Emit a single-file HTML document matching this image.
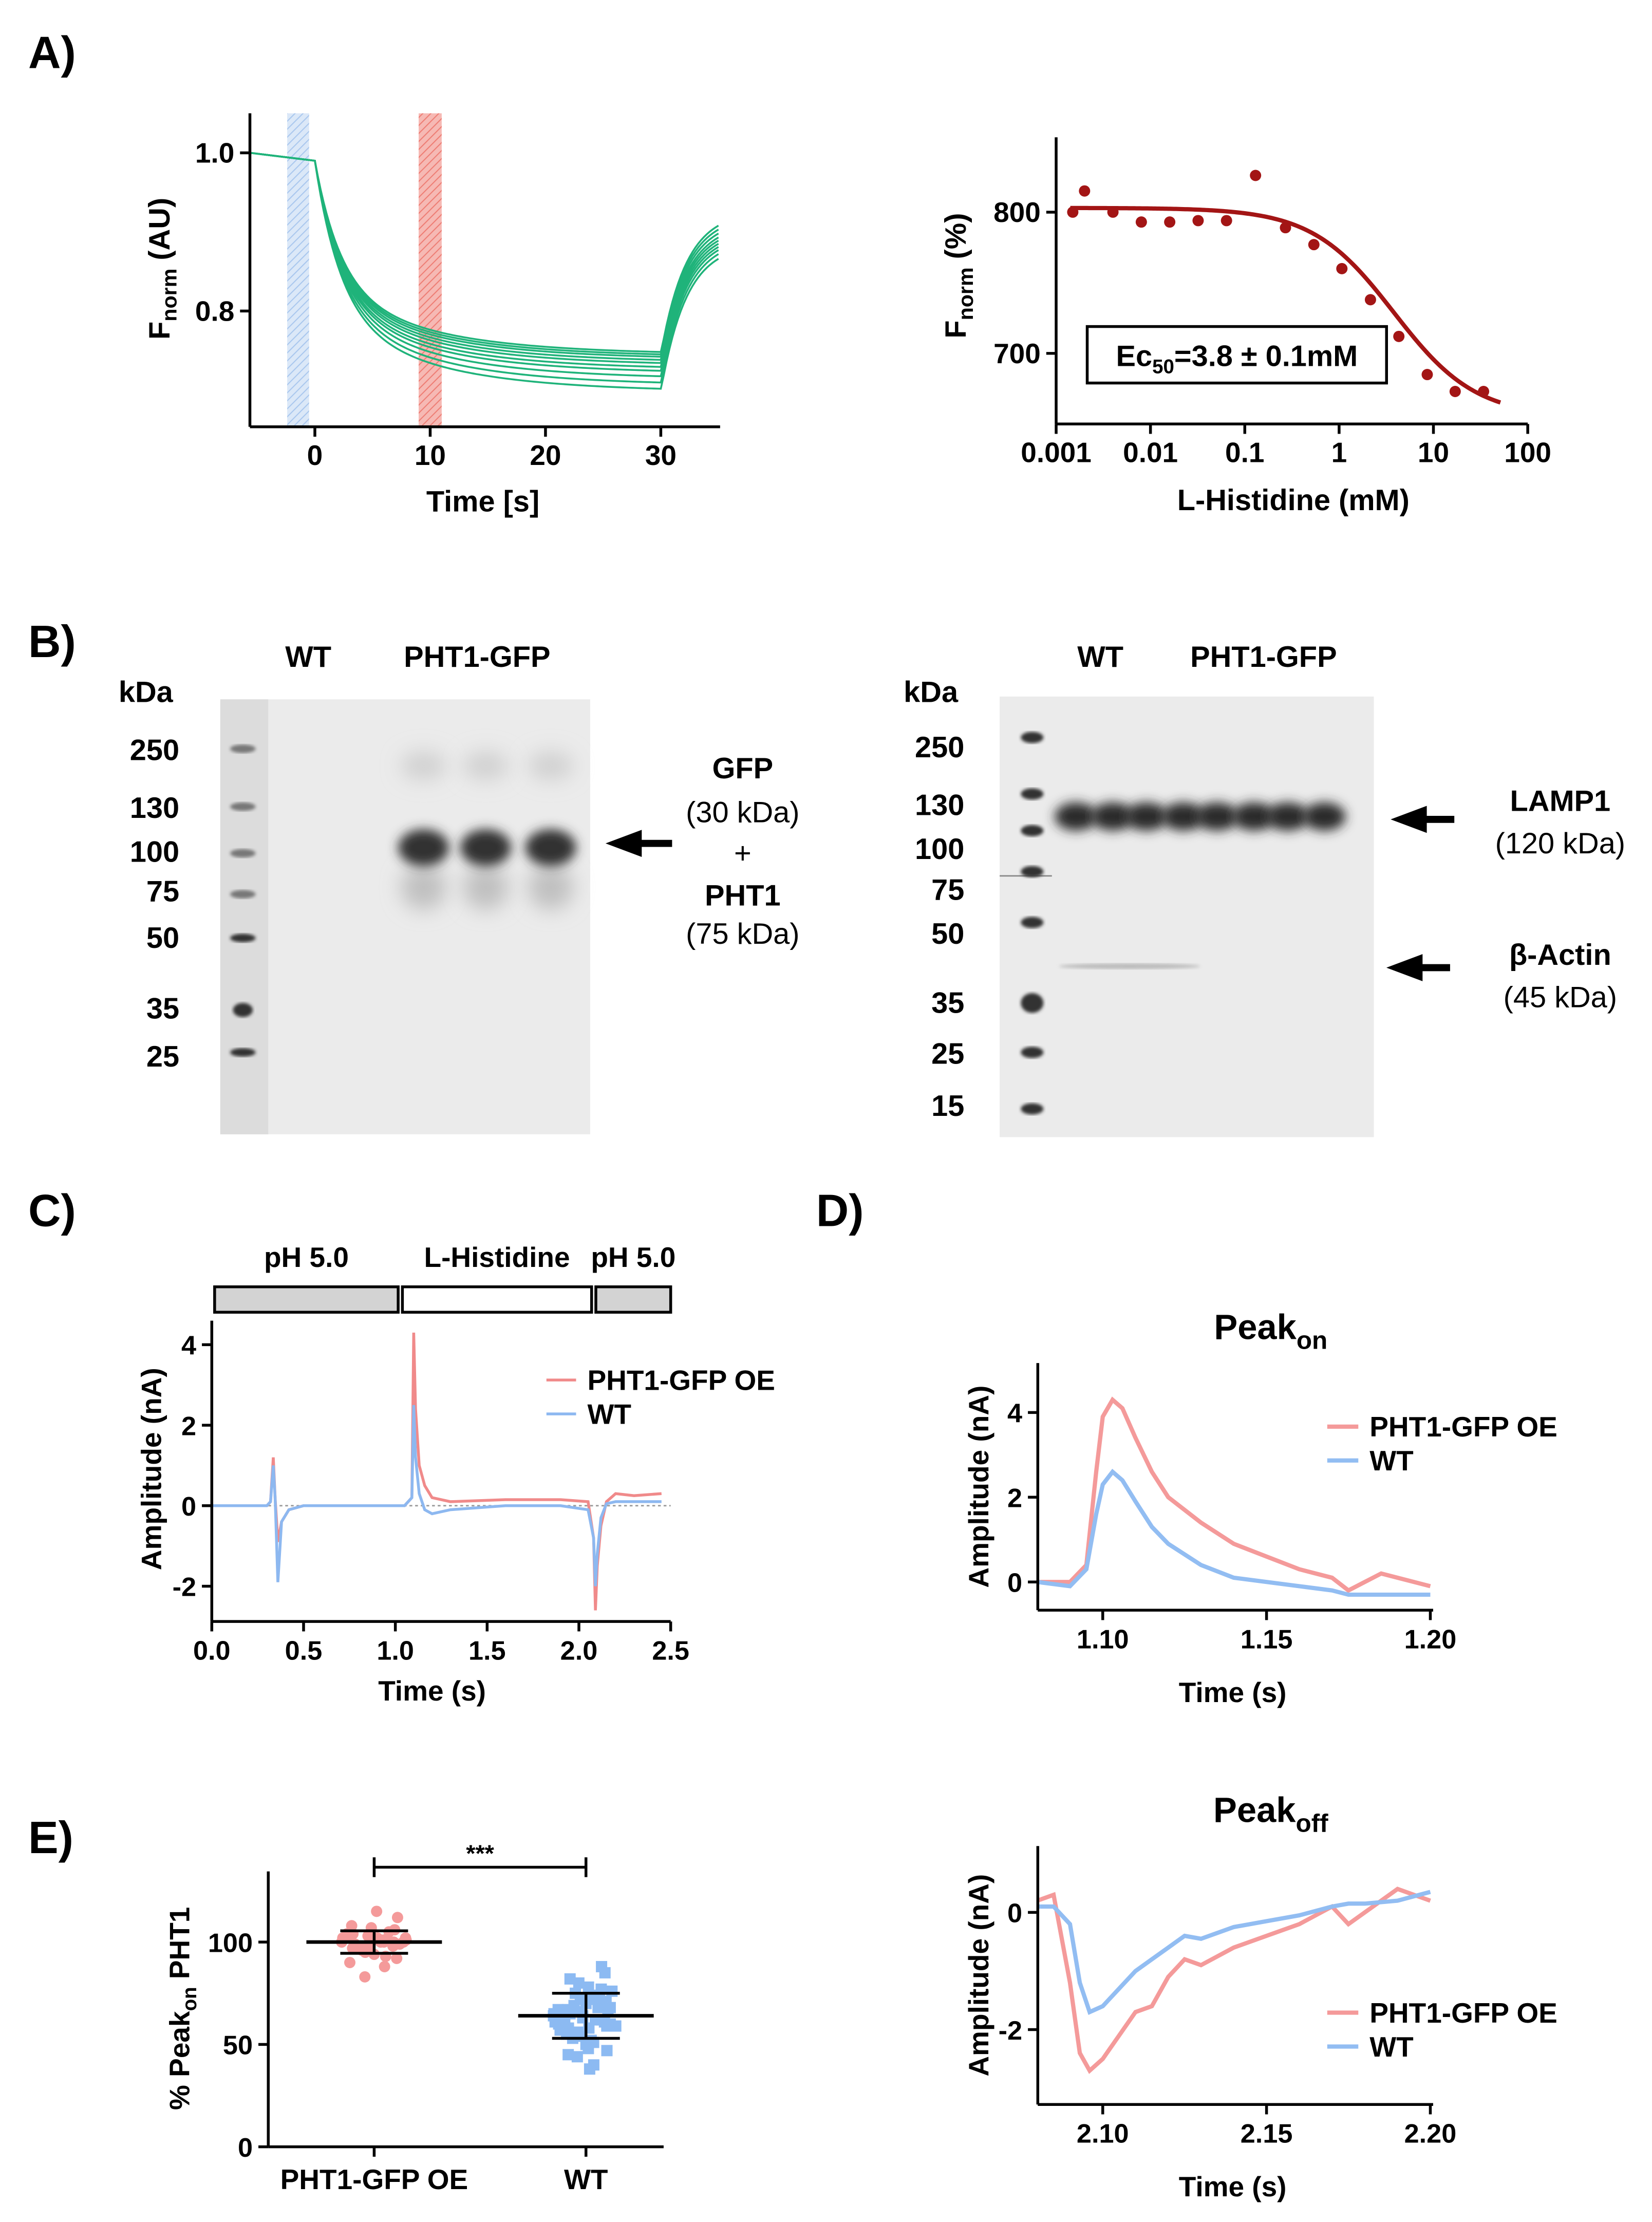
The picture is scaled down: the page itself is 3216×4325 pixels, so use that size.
<!DOCTYPE html>
<html><head><meta charset="utf-8">
<style>
html,body{margin:0;padding:0;background:#fff;}
svg{display:block;font-family:"Liberation Sans",Arial,sans-serif;}
.b{font-weight:bold;}
</style></head>
<body>
<svg id="fig" width="3216" height="4325" viewBox="0 0 1170 1573" xmlns="http://www.w3.org/2000/svg">
<defs>
<pattern id="hb" patternUnits="userSpaceOnUse" width="4" height="4" patternTransform="rotate(45)"><rect width="4" height="4" fill="#dbe8f8"/><line x1="0" y1="0" x2="0" y2="4" stroke="#a9c7ee" stroke-width="1.5"/></pattern>
<pattern id="hr" patternUnits="userSpaceOnUse" width="4" height="4" patternTransform="rotate(45)"><rect width="4" height="4" fill="#f6b9b4"/><line x1="0" y1="0" x2="0" y2="4" stroke="#ee7d74" stroke-width="1.5"/></pattern>
<filter id="blur3" x="-50%" y="-100%" width="200%" height="300%"><feGaussianBlur stdDeviation="4"/></filter>
<filter id="blur6" x="-50%" y="-100%" width="200%" height="300%"><feGaussianBlur stdDeviation="7"/></filter>
<filter id="blur1"><feGaussianBlur stdDeviation="1.2"/></filter>
</defs>
<g id="root"></g>
<text class="b" x="20" y="48" font-size="32">A)</text>
<text class="b" x="20" y="465" font-size="32">B)</text>
<text class="b" x="20" y="868" font-size="32">C)</text>
<text class="b" x="578" y="868" font-size="32">D)</text>
<text class="b" x="20" y="1312" font-size="32">E)</text>

<g font-size="21" class="b">
<text x="84" y="497">kDa</text>
<text x="202" y="472">WT</text>
<text x="286" y="472">PHT1-GFP</text>
<g text-anchor="end"><text x="127" y="538">250</text><text x="127" y="579">130</text><text x="127" y="610">100</text><text x="127" y="638">75</text><text x="127" y="671">50</text><text x="127" y="721">35</text><text x="127" y="755">25</text></g>
<text x="526" y="551" text-anchor="middle">GFP</text>
<text x="526" y="611" text-anchor="middle" font-weight="normal">+</text>
<text x="526" y="641" text-anchor="middle">PHT1</text>
</g>
<g font-size="21" text-anchor="middle"><text x="526" y="582">(30 kDa)</text><text x="526" y="668">(75 kDa)</text></g>
<path d="M476,597 L452,597 L452,591 L436,597 L452,603 L452,597" stroke="#000" stroke-width="5" fill="#000"/>

<g font-size="21" class="b">
<text x="640" y="497">kDa</text>
<text x="763" y="472">WT</text>
<text x="843" y="472">PHT1-GFP</text>
<g text-anchor="end"><text x="683" y="536">250</text><text x="683" y="577">130</text><text x="683" y="608">100</text><text x="683" y="637">75</text><text x="683" y="668">50</text><text x="683" y="717">35</text><text x="683" y="753">25</text><text x="683" y="790">15</text></g>
<text x="1105" y="574" text-anchor="middle">LAMP1</text>
<text x="1105" y="683" text-anchor="middle">β-Actin</text>
</g>
<g font-size="21" text-anchor="middle"><text x="1105" y="604">(120 kDa)</text><text x="1105" y="713">(45 kDa)</text></g>
<path d="M1030,580 L1008,580 L1008,574 L992,580 L1008,586 L1008,580" stroke="#000" stroke-width="5" fill="#000"/>
<path d="M1027,685 L1005,685 L1005,679 L989,685 L1005,691 L1005,685" stroke="#000" stroke-width="5" fill="#000"/>

<script>
var aFinal=[0.745,0.742,0.739,0.735,0.731,0.726,0.721,0.714,0.706,0.698];
var aRecov=[0.908,0.903,0.898,0.893,0.889,0.885,0.881,0.877,0.872,0.866];
var aMid=[0.805,0.802,0.799,0.796,0.793,0.789,0.786,0.782,0.777,0.772];
var aXTicks=[0,10,20,30];
var aYTicks=[0.8,1.0];
var drConc=[0.0015,0.002,0.004,0.008,0.016,0.032,0.064,0.13,0.27,0.54,1.07,2.15,4.3,8.6,17,34];
var drF=[800,815,800,793,793,794,794,826,789,777,760,738,712,685,673,673];
var drXTicks=[0.001,0.01,0.1,1,10,100];
var drXLabels=["0.001","0.01","0.1","1","10","100"];
var drYTicks=[700,800];
var cT=[0,0.3,0.32,0.335,0.345,0.36,0.38,0.42,0.5,0.8,1.05,1.09,1.1,1.11,1.13,1.16,1.2,1.3,1.6,1.9,2.05,2.08,2.09,2.1,2.12,2.15,2.2,2.3,2.45];
var cOE=[0,0,0.1,1.2,0.2,-0.9,-0.4,-0.1,0,0,0,0.2,4.3,2.4,1.0,0.5,0.2,0.1,0.15,0.15,0.1,-0.8,-2.6,-1.5,-0.5,0.1,0.3,0.25,0.3];
var cWT=[0,0,0.1,1.0,0.2,-1.9,-0.4,-0.1,0,0,0,0.2,2.5,1.2,0.3,-0.1,-0.2,-0.1,0,0,-0.1,-0.8,-2.0,-1.2,-0.3,0.05,0.1,0.1,0.1];
var cXTicks=[0,0.5,1.0,1.5,2.0,2.5];
var cYTicks=[-2,0,2,4];
var dOnT=[1.08,1.09,1.095,1.098,1.1,1.103,1.106,1.11,1.115,1.12,1.13,1.14,1.15,1.16,1.17,1.175,1.18,1.185,1.19,1.2];
var dOnOE=[0,0,0.4,2.6,3.9,4.3,4.1,3.4,2.6,2.0,1.4,0.9,0.6,0.3,0.1,-0.2,0,0.2,0.1,-0.1];
var dOnWT=[0,-0.1,0.3,1.6,2.3,2.6,2.4,1.9,1.3,0.9,0.4,0.1,0,-0.1,-0.2,-0.3,-0.3,-0.3,-0.3,-0.3];
var dOnXTicks=[1.10,1.15,1.20];
var dOnYTicks=[0,2,4];
var dOffT=[2.08,2.085,2.09,2.093,2.096,2.1,2.105,2.11,2.115,2.12,2.125,2.13,2.14,2.15,2.16,2.17,2.175,2.18,2.19,2.2];
var dOffOE=[0.2,0.3,-1.2,-2.4,-2.7,-2.5,-2.1,-1.7,-1.6,-1.1,-0.8,-0.9,-0.6,-0.4,-0.2,0.1,-0.2,0,0.4,0.2];
var dOffWT=[0.1,0.1,-0.2,-1.2,-1.7,-1.6,-1.3,-1.0,-0.8,-0.6,-0.4,-0.45,-0.25,-0.15,-0.05,0.1,0.15,0.15,0.2,0.35];
var dOffXTicks=[2.10,2.15,2.20];
var dOffYTicks=[-2,0];
var eOE=[100,98,102,96,104,99,101,95,108,92,100,103,97,112,88,100,99,101,105,94,98,102,100,115,83,90,106,100,97,103,99,101,96,104,100,93,107,98,102,100];
var eWT=[64,70,58,75,60,66,52,80,45,68,62,72,55,85,40,63,67,59,74,50,65,61,77,48,69,57,71,38,66,63,60,73,54,82,47,68,64,58,76,62,70,53,65,61,78,44,67,59,72,56,64,88,51,66,60];
var eCats=["PHT1-GFP OE","WT"];
var eMean=[100,64];
var eSD=[5.5,11];
var eYTicks=[0,50,100];

var NS="http://www.w3.org/2000/svg";
var root=document.getElementById('root');
function el(tag,attrs,parent,txt){var e=document.createElementNS(NS,tag);for(var k in attrs)e.setAttribute(k,attrs[k]);if(txt!==undefined)e.textContent=txt;(parent||root).appendChild(e);return e;}
function lin(d0,d1,r0,r1){return function(v){return r0+(v-d0)*(r1-r0)/(d1-d0);};}
function grp(name){var g=el('g',{});return g;}
function path(pts){return pts.map(function(p,i){return (i?'L':'M')+p[0].toFixed(2)+','+p[1].toFixed(2);}).join(' ');}
function axes(g,x0,y0,x1,y1){el('line',{x1:x0,y1:y0,x2:x0,y2:y1,stroke:'#000','stroke-width':2},g);el('line',{x1:x0,y1:y1,x2:x1,y2:y1,stroke:'#000','stroke-width':2},g);}
function xTicks(g,ticks,labels,sx,y,fs){ticks.forEach(function(t,i){var x=sx(t);el('line',{x1:x,y1:y,x2:x,y2:y+7,stroke:'#000','stroke-width':2},g);var tx=el('text',{x:x,y:y+27,'text-anchor':'middle','font-size':fs||19,'font-weight':'bold'},g,labels[i]);});}
function yTicks(g,ticks,labels,sy,x,fs){ticks.forEach(function(t,i){var y=sy(t);el('line',{x1:x-7,y1:y,x2:x,y2:y,stroke:'#000','stroke-width':2},g);var tx=el('text',{x:x-11,y:y+7,'text-anchor':'end','font-size':fs||19,'font-weight':'bold'},g,labels[i]);});}
function fmt(v,d){return v.toFixed(d);}

(function(){
var g=grp('panel-a-kinetics');
var sx=lin(0,30,223,468), sy=lin(0.8,1.0,220,108);
el('rect',{x:sx(-2.4),y:80,width:sx(-0.5)-sx(-2.4),height:222,fill:'url(#hb)'},g);
el('rect',{x:sx(9),y:80,width:sx(11)-sx(9),height:222,fill:'url(#hr)'},g);
aFinal.forEach(function(f,i){var pts=[[sx(-5.6),sy(1.0)],[sx(0),sy(0.99)]];
 // two-phase decay: fast toward aMid-ish then slow to final
 var m=aMid[i];
 for(var t=0.25;t<=30;t+=0.25){var fast=(0.99-m-0.03)*Math.exp(-t/2.2);var slow=(m+0.03-f)*Math.exp(-t/9);pts.push([sx(t),sy(f+fast+slow)]);}
 for(var t2=30.25;t2<=35;t2+=0.25){pts.push([sx(t2),sy(f+(aRecov[i]-f)*(1-Math.exp(-(t2-30)/2.2))/(1-Math.exp(-5/2.2)))]);}
 var p=el('path',{d:path(pts),fill:'none',stroke:'#1fb37a','stroke-width':1.3},g);
 });
axes(g,177,80,510,302);
xTicks(g,aXTicks,aXTicks.map(String),sx,302,20);
yTicks(g,aYTicks,['0.8','1.0'],sy,177,20);
var t=el('text',{x:342,y:362,'text-anchor':'middle','font-size':21,'font-weight':'bold'},g,'Time [s]');
var yt=el('text',{transform:'translate(120,190) rotate(-90)','text-anchor':'middle','font-size':21,'font-weight':'bold'},g);
el('tspan',{},yt,'F');el('tspan',{'font-size':15,dy:5},yt,'norm');el('tspan',{dy:-5},yt,' (AU)');
})();

(function(){
var g=grp('panel-a-dose-response');
var lx=lin(-3,2,748,1082); var sx=function(c){return lx(Math.log10(c));}; var sy=lin(700,800,250,150);
var pts=[];for(var e=-2.85;e<=1.72;e+=0.02){var c=Math.pow(10,e);pts.push([sx(c),sy(655+(803-655)/(1+c/3.8))]);}
el('path',{d:path(pts),fill:'none',stroke:'#a31515','stroke-width':3},g);
drConc.forEach(function(c,i){var d=el('circle',{cx:sx(c),cy:sy(drF[i]),r:4,fill:'#a31515'},g);});
axes(g,748,97,1082,300);
xTicks(g,drXTicks,drXLabels,sx,300,20);
yTicks(g,drYTicks,['700','800'],sy,748,20);
var b=el('rect',{x:770,y:231,width:212,height:40,fill:'#fff',stroke:'#000','stroke-width':2},g);
var tx=el('text',{x:876,y:259,'text-anchor':'middle','font-size':21,'font-weight':'bold'},g);
el('tspan',{},tx,'Ec');el('tspan',{'font-size':14,dy:5},tx,'50');el('tspan',{dy:-5},tx,'=3.8 ± 0.1mM');
el('text',{x:916,y:361,'text-anchor':'middle','font-size':21,'font-weight':'bold'},g,'L-Histidine (mM)');
var yt=el('text',{transform:'translate(684,195) rotate(-90)','text-anchor':'middle','font-size':21,'font-weight':'bold'},g);
el('tspan',{},yt,'F');el('tspan',{'font-size':15,dy:5},yt,'norm');el('tspan',{dy:-5},yt,' (%)');
})();

(function(){
var g=grp('blot-left');
el('rect',{x:156,y:495,width:262,height:308,fill:'#ebebeb'},g);
el('rect',{x:156,y:495,width:34,height:308,fill:'#dcdcdc'},g);
[530,571,604,633,664,715,745].forEach(function(y,i){el('ellipse',{cx:172,cy:y,rx:i==5?7:9,ry:i==5?5:3,fill:i<4?'#777':'#333',filter:'url(#blur1)'},g);});
[300,344,390].forEach(function(x){
 el('ellipse',{cx:x,cy:542,rx:16,ry:10,fill:'#d0d0d0',filter:'url(#blur6)'},g);
 el('ellipse',{cx:x,cy:628,rx:16,ry:16,fill:'#c0c0c0',filter:'url(#blur6)'},g);
 el('ellipse',{cx:x,cy:600,rx:18,ry:13,fill:'#333',filter:'url(#blur3)'},g);});
var g2=grp('blot-right');
el('rect',{x:708,y:493,width:265,height:312,fill:'#ebebeb'},g2);
el('line',{x1:708,y1:620,x2:745,y2:620,stroke:'#888','stroke-width':1},g2);
[522,562,588,617,653,710,745,785].forEach(function(y,i){el('ellipse',{cx:731,cy:y,rx:8,ry:i==5?7:4,fill:'#333',filter:'url(#blur1)'},g2);});
[762,788,812,838,862,888,912,938].forEach(function(x){el('ellipse',{cx:x,cy:578,rx:15,ry:10,fill:'#2a2a2a',filter:'url(#blur3)'},g2);});
el('ellipse',{cx:800,cy:684,rx:50,ry:2,fill:'#bbb',filter:'url(#blur1)'},g2);
})();

(function(){
var g=grp('panel-c-current');
var sx=lin(0,2.5,150,475), sy=lin(0,2,1066,1009);
[[152,282,'#d3d3d3','pH 5.0'],[285,419,'#fff','L-Histidine'],[422,475,'#d3d3d3','pH 5.0']].forEach(function(b){
 var r=el('rect',{x:b[0],y:911,width:b[1]-b[0],height:18,fill:b[2],stroke:'#000','stroke-width':2},g);
 el('text',{x:(b[0]+b[1])/2,y:897,'text-anchor':'middle','font-size':20,'font-weight':'bold'},g,b[3]);});
el('line',{x1:150,y1:sy(0),x2:475,y2:sy(0),stroke:'#999','stroke-width':1,'stroke-dasharray':'2,2'},g);
el('path',{d:path(cT.map(function(t,i){return [sx(t),sy(cOE[i])];})),fill:'none',stroke:'#f08a8a','stroke-width':2},g);
el('path',{d:path(cT.map(function(t,i){return [sx(t),sy(cWT[i])];})),fill:'none',stroke:'#8db8f0','stroke-width':2},g);
axes(g,150,935,475,1148);
xTicks(g,cXTicks,cXTicks.map(function(v){return fmt(v,1);}),sx,1148,19);
yTicks(g,cYTicks,cYTicks.map(String),sy,150,19);
el('text',{x:306,y:1204,'text-anchor':'middle','font-size':20,'font-weight':'bold'},g,'Time (s)');
el('text',{transform:'translate(114,1040) rotate(-90)','text-anchor':'middle','font-size':20,'font-weight':'bold'},g,'Amplitude (nA)');
var lg=el('g',{},g);
el('line',{x1:387,y1:977,x2:408,y2:977,stroke:'#f08a8a','stroke-width':2},lg);el('text',{x:416,y:984,'font-size':20,'font-weight':'bold'},lg,'PHT1-GFP OE');
el('line',{x1:387,y1:1001,x2:408,y2:1001,stroke:'#8db8f0','stroke-width':2},lg);el('text',{x:416,y:1008,'font-size':20,'font-weight':'bold'},lg,'WT');
})();

function panelD(name,title,sub,T,OE,WT,xt,yt,x0,y0t,y1,ysc,legY){
var g=grp(name);
var sx=lin(1.10,1.15,781,897);
var off=T[0]>2?1:0; var sxx=function(t){return sx(t-off);};
var sy=ysc;
el('path',{d:path(T.map(function(t,i){return [sxx(t),sy(OE[i])];})),fill:'none',stroke:'#f49a9a','stroke-width':3},g);
el('path',{d:path(T.map(function(t,i){return [sxx(t),sy(WT[i])];})),fill:'none',stroke:'#92bdf2','stroke-width':3},g);
axes(g,735,y0t,1015,y1);
xTicks(g,xt,xt.map(function(v){return fmt(v,2);}),sxx,y1,19);
yTicks(g,yt,yt.map(String),sy,735,19);
el('text',{x:873,y:y1+65,'text-anchor':'middle','font-size':20,'font-weight':'bold'},g,'Time (s)');
el('text',{transform:'translate(700,'+((y0t+y1)/2)+') rotate(-90)','text-anchor':'middle','font-size':20,'font-weight':'bold'},g,'Amplitude (nA)');
var tt=el('text',{x:900,y:y0t-17,'text-anchor':'middle','font-size':25,'font-weight':'bold'},g);
el('tspan',{},tt,title);el('tspan',{'font-size':18,dy:7},tt,sub);
var lg=el('g',{},g);
el('line',{x1:940,y1:legY,x2:962,y2:legY,stroke:'#f49a9a','stroke-width':3},lg);el('text',{x:970,y:legY+7,'font-size':20,'font-weight':'bold'},lg,'PHT1-GFP OE');
el('line',{x1:940,y1:legY+24,x2:962,y2:legY+24,stroke:'#92bdf2','stroke-width':3},lg);el('text',{x:970,y:legY+31,'font-size':20,'font-weight':'bold'},lg,'WT');
}
panelD('panel-d-peak-on','Peak','on',dOnT,dOnOE,dOnWT,dOnXTicks,dOnYTicks,735,965,1140,lin(0,2,1120,1060),1010);
panelD('panel-d-peak-off','Peak','off',dOffT,dOffOE,dOffWT,dOffXTicks,dOffYTicks,735,1307,1490,lin(0,-2,1354,1437),1425);

(function(){
var g=grp('panel-e-scatter');
var sy=lin(0,100,1520,1375); var cx=[265,415];
[eOE,eWT].forEach(function(arr,k){arr.forEach(function(v,i){
 var jit=((i*37)%21-10)*2.3*(1-Math.abs(v-eMean[k])/60);
 var x=cx[k]+jit;
 var m;if(k==0){m=el('circle',{cx:x,cy:sy(v),r:4,fill:'#f49a9a'},g);}else{m=el('rect',{x:x-4,y:sy(v)-4,width:8,height:8,fill:'#8cbaf2'},g);}
 });});
[0,1].forEach(function(k){var x=cx[k];
 el('line',{x1:x-48,y1:sy(eMean[k]),x2:x+48,y2:sy(eMean[k]),stroke:'#000','stroke-width':2.5},g);
 el('line',{x1:x,y1:sy(eMean[k]-eSD[k]),x2:x,y2:sy(eMean[k]+eSD[k]),stroke:'#000','stroke-width':2},g);
 [eMean[k]-eSD[k],eMean[k]+eSD[k]].forEach(function(v){el('line',{x1:x-24,y1:sy(v),x2:x+24,y2:sy(v),stroke:'#000','stroke-width':2},g);});
 el('text',{x:x,y:1550,'text-anchor':'middle','font-size':20,'font-weight':'bold'},g,eCats[k]);});
el('line',{x1:265,y1:1322,x2:415,y2:1322,stroke:'#000','stroke-width':2},g);
el('line',{x1:265,y1:1315,x2:265,y2:1329,stroke:'#000','stroke-width':2},g);el('line',{x1:415,y1:1315,x2:415,y2:1329,stroke:'#000','stroke-width':2},g);
el('text',{x:340,y:1318,'text-anchor':'middle','font-size':17,'font-weight':'bold'},g,'***');
axes(g,190,1325,470,1520);
el('line',{x1:265,y1:1520,x2:265,y2:1527,stroke:'#000','stroke-width':2},g);el('line',{x1:415,y1:1520,x2:415,y2:1527,stroke:'#000','stroke-width':2},g);
yTicks(g,eYTicks,eYTicks.map(String),sy,190,19);
var yt=el('text',{transform:'translate(134,1422) rotate(-90)','text-anchor':'middle','font-size':20,'font-weight':'bold'},g);
el('tspan',{},yt,'% Peak');el('tspan',{'font-size':14,dy:5},yt,'on');el('tspan',{dy:-5},yt,' PHT1');
})();
</script>
</svg>
</body></html>
